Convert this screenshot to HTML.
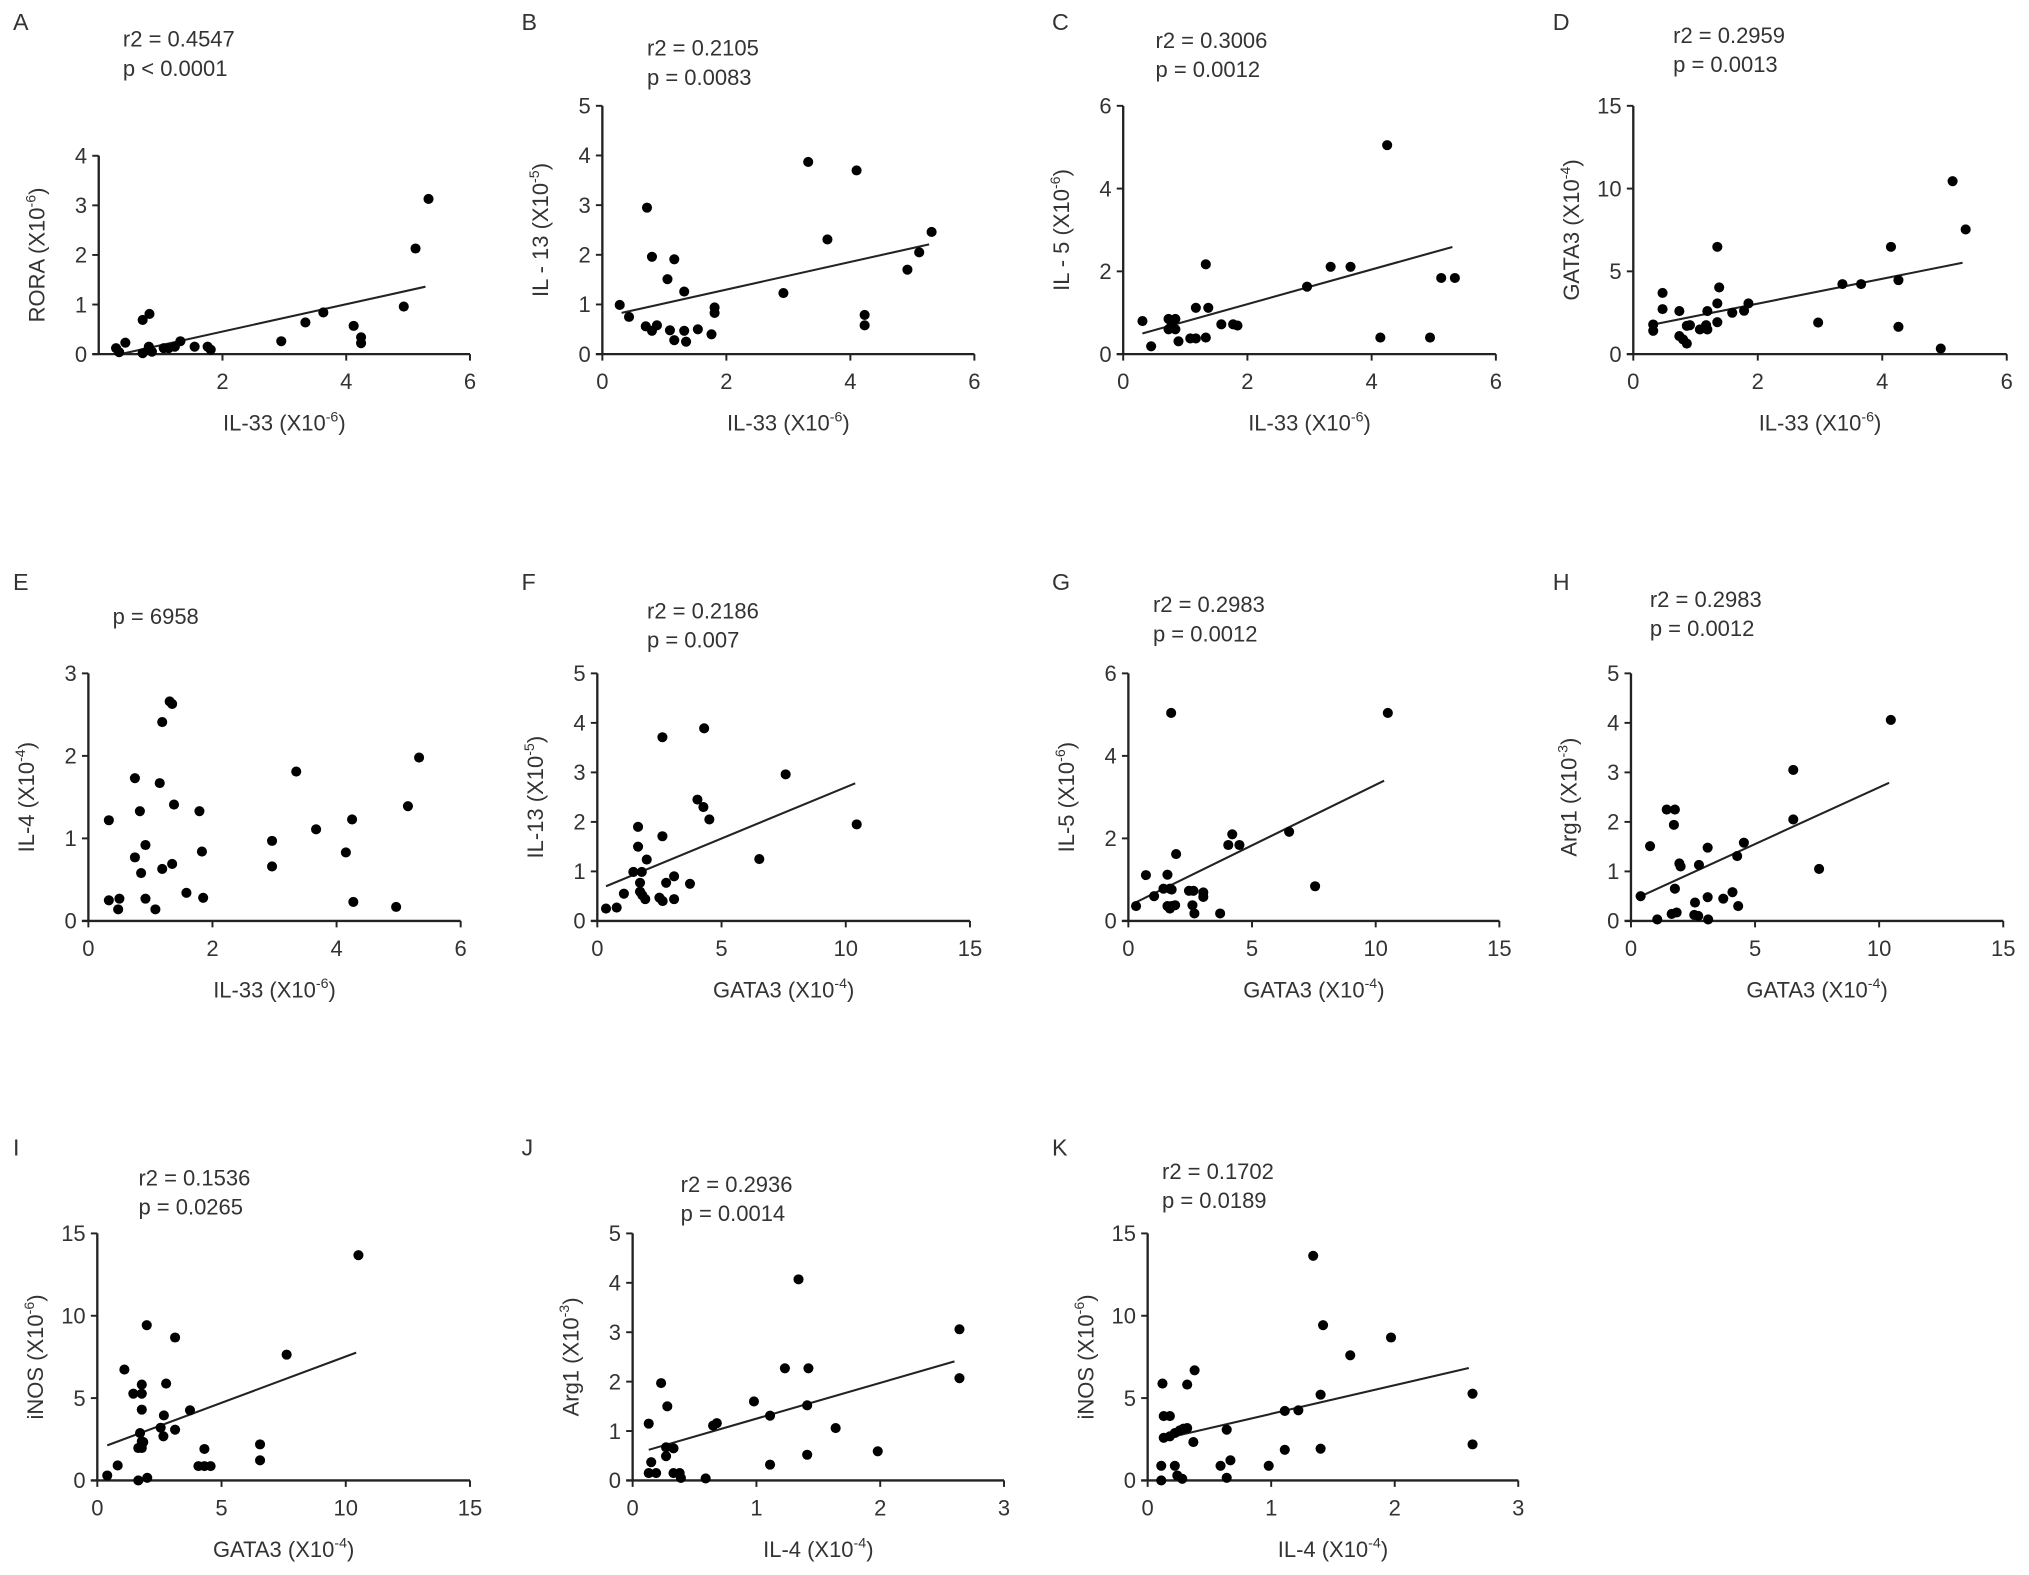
<!DOCTYPE html>
<html><head><meta charset="utf-8"><style>
html,body{margin:0;padding:0;background:#fff;}
svg{display:block;font-family:"Liberation Sans",Arial,sans-serif;}
</style></head><body>
<svg id="fig" width="2029" height="1575" viewBox="0 0 1568 1217" xmlns="http://www.w3.org/2000/svg"></svg>
<script>
// ---- data ----
const aX=[0.28,0.33,0.43,0.71,0.82,0.71,0.81,0.86,0.80,1.05,1.13,1.23,1.32,1.55,1.76,1.81,2.95,3.34,3.63,4.12,4.24,4.24,4.93,5.12,5.33];
const aY=[0.12,0.04,0.23,0.69,0.81,0.02,0.15,0.05,0.09,0.12,0.12,0.15,0.26,0.15,0.15,0.09,0.26,0.64,0.84,0.57,0.34,0.22,0.96,2.13,3.13];
const aLine=[0.35,0.0,5.28,1.36];
const bX=[0.28,0.43,0.72,0.70,0.80,0.88,0.80,1.05,1.16,1.09,1.16,1.32,1.32,1.35,1.54,1.76,1.81,1.81,2.92,3.32,3.63,4.10,4.23,4.23,4.92,5.11,5.31];
const bY=[0.99,0.75,2.95,0.56,0.47,0.58,1.96,1.51,1.91,0.48,0.28,1.26,0.47,0.25,0.50,0.40,0.94,0.83,1.23,3.87,2.31,3.70,0.79,0.58,1.70,2.05,2.46];
const bLine=[0.31,0.83,5.27,2.21];
const cX=[0.31,0.45,0.73,0.84,0.73,0.84,0.78,0.89,1.08,1.17,1.17,1.33,1.33,1.37,1.58,1.77,1.84,2.96,3.34,3.66,4.25,4.14,4.94,5.12,5.34];
const cY=[0.80,0.19,0.85,0.85,0.60,0.60,0.74,0.31,0.38,0.38,1.12,2.17,0.40,1.12,0.72,0.72,0.69,1.63,2.11,2.11,5.05,0.40,0.40,1.84,1.84];
const cLine=[0.31,0.50,5.30,2.59];
const dX=[0.32,0.32,0.47,0.47,0.74,0.74,0.80,0.86,0.86,0.91,1.07,1.17,1.19,1.19,1.35,1.35,1.35,1.38,1.59,1.78,1.85,2.97,3.36,3.66,4.14,4.26,4.26,4.94,5.13,5.34];
const dY=[1.79,1.41,3.70,2.72,2.60,1.09,0.89,0.64,1.71,1.75,1.49,1.75,1.49,2.60,6.48,3.06,1.93,4.03,2.50,2.62,3.06,1.91,4.23,4.23,6.48,4.47,1.65,0.34,10.45,7.53];
const dLine=[0.32,1.79,5.29,5.52];
const eX=[0.33,0.33,0.48,0.50,0.75,0.75,0.83,0.85,0.92,0.92,1.08,1.15,1.19,1.19,1.31,1.35,1.35,1.38,1.58,1.79,1.83,1.85,2.96,2.96,3.35,3.67,4.15,4.25,4.27,4.96,5.15,5.33];
const eY=[1.22,0.25,0.14,0.27,1.73,0.77,1.33,0.58,0.92,0.27,0.14,1.67,2.41,0.63,2.66,2.63,0.69,1.41,0.34,1.33,0.84,0.28,0.97,0.66,1.81,1.11,0.83,1.23,0.23,0.17,1.39,1.98];
const fX=[0.35,0.78,1.07,1.64,1.64,1.45,1.79,1.72,1.72,1.81,1.93,1.99,2.62,2.62,2.50,2.63,2.77,3.09,3.09,3.73,4.03,4.27,4.30,4.51,6.52,7.58,10.44];
const fY=[0.25,0.27,0.55,1.90,1.50,0.99,0.99,0.77,0.59,0.52,0.44,1.24,3.71,1.71,0.47,0.40,0.77,0.90,0.44,0.75,2.45,2.30,3.89,2.05,1.25,2.96,1.95];
const fLine=[0.35,0.70,10.38,2.78];
const gX=[0.31,0.71,1.04,1.42,1.68,1.75,1.58,1.58,1.75,1.89,1.68,1.73,1.93,2.45,2.63,3.03,3.03,2.59,2.67,3.71,4.04,4.20,4.49,6.50,7.55,10.49];
const gY=[0.36,1.11,0.60,0.78,0.78,0.76,1.12,0.36,0.36,0.38,0.30,5.04,1.62,0.73,0.73,0.69,0.58,0.38,0.18,0.18,1.84,2.10,1.84,2.16,0.84,5.04];
const gLine=[0.20,0.42,10.34,3.40];
const hX=[0.39,0.77,1.06,1.44,1.77,1.73,1.77,1.64,1.84,1.95,2.00,2.58,2.55,2.71,2.74,3.09,3.09,3.11,3.72,4.09,4.28,4.32,4.55,6.54,6.54,7.58,10.47];
const hY=[0.50,1.51,0.03,2.25,2.25,1.94,0.65,0.14,0.17,1.16,1.10,0.37,0.12,0.10,1.13,1.48,0.48,0.03,0.45,0.58,1.31,0.30,1.58,3.05,2.05,1.05,4.06];
const hLine=[0.36,0.49,10.40,2.79];
const iX=[0.40,0.82,1.09,1.45,1.79,1.79,1.79,1.72,1.79,1.85,1.65,1.79,1.65,2.01,1.99,2.55,2.66,2.77,2.68,3.13,3.13,3.73,4.31,4.07,4.31,4.56,6.55,6.55,7.62,10.51];
const iY=[0.30,0.91,6.73,5.27,5.27,5.82,4.30,2.88,2.37,2.33,1.97,1.97,0.0,0.16,9.43,3.20,2.68,5.88,3.95,8.68,3.08,4.26,1.91,0.87,0.87,0.87,2.19,1.22,7.64,13.68];
const iLine=[0.40,2.13,10.42,7.76];
const jX=[0.13,0.13,0.19,0.15,0.23,0.28,0.27,0.27,0.33,0.33,0.38,0.39,0.59,0.65,0.68,0.98,1.11,1.11,1.23,1.34,1.41,1.42,1.41,1.64,1.98,2.64,2.64];
const jY=[1.15,0.15,0.15,0.37,1.97,1.50,0.49,0.67,0.65,0.15,0.15,0.05,0.04,1.11,1.16,1.60,1.31,0.32,2.27,4.07,1.52,2.27,0.52,1.06,0.59,3.06,2.07];
const jLine=[0.13,0.62,2.60,2.41];
const kX=[0.12,0.11,0.11,0.13,0.18,0.13,0.18,0.22,0.26,0.29,0.32,0.22,0.24,0.28,0.32,0.38,0.37,0.59,0.64,0.64,0.67,0.98,1.11,1.11,1.22,1.34,1.40,1.40,1.42,1.64,1.97,2.63,2.63];
const kY=[5.88,0.89,0.0,3.91,3.91,2.59,2.68,2.88,3.04,3.14,3.18,0.89,0.30,0.10,5.82,6.69,2.33,0.89,3.08,0.16,1.22,0.89,4.22,1.86,4.26,13.64,5.21,1.93,9.43,7.60,8.68,5.27,2.19];
const kLine=[0.13,2.53,2.60,6.83];
const xt6=[0,2,4,6], xt6A=[2,4,6], xt15=[0,5,10,15], xt3=[0,1,2,3];
const yt4=[0,1,2,3,4], yt5=[0,1,2,3,4,5], yt6=[0,2,4,6], yt15=[0,5,10,15], yt3=[0,1,2,3];

const NS="http://www.w3.org/2000/svg";
const svg=document.getElementById('fig');
function mk(tag,attrs,parent){const e=document.createElementNS(NS,tag);for(const k in attrs)e.setAttribute(k,attrs[k]);(parent||svg).appendChild(e);return e;}
function addTitle(g,x,y,main,sup,rot,name){
  const t=mk('text',{x:x,y:y,'font-size':'17','fill':'#333','text-anchor':'middle'},g);
  
  
  if(rot)t.setAttribute('transform','rotate(-90 '+x+' '+y+')');
  t.appendChild(document.createTextNode(main+' (X10'));
  const s=mk('tspan',{'font-size':'11',dy:'-7'},t);s.textContent=sup;
  const s2=mk('tspan',{dy:'7'},t);s2.textContent=')';
}
function panel(p){
  const g=mk('g',{});
  
  
  const sx=v=>p.x0+(v-0)/p.xmax*(p.x1-p.x0);
  const sy=v=>p.y0-(v/p.ymax)*(p.y0-p.yt);
  const lab=mk('text',{x:p.lx,y:p.ly,'font-size':'18','fill':'#333'},g);
  
  
  lab.textContent=p.letter;
  p.stats.forEach((s,i)=>{const t=mk('text',{x:p.sx,y:p.sy+i*22.5,'font-size':'17','fill':'#333'},g);
    
    
    t.textContent=s;});
  const ax=mk('path',{d:'M'+p.x0+' '+p.yt+' V'+p.y0+' M'+(p.x0-5)+' '+p.y0+' H'+p.x1,stroke:'#222','stroke-width':'1.8',fill:'none'},g);
  
  
  p.yticks.forEach(v=>{const y=sy(v);
    mk('line',{x1:p.x0-5,x2:p.x0,y1:y,y2:y,stroke:'#222','stroke-width':'1.5'},g);
    const t=mk('text',{x:p.x0-9,y:y+6,'font-size':'17','fill':'#333','text-anchor':'end'},g);
    
    
    t.textContent=v;});
  p.xticks.forEach(v=>{const x=sx(v);
    mk('line',{x1:x,x2:x,y1:p.y0,y2:p.y0+5,stroke:'#222','stroke-width':'1.5'},g);
    const t=mk('text',{x:x,y:p.y0+27,'font-size':'17','fill':'#333','text-anchor':'middle'},g);
    
    
    t.textContent=v;});
  addTitle(g,(p.x0+p.x1)/2,p.y0+59,p.xl[0],p.xl[1],false,'x-axis-title');
  addTitle(g,p.x0-42,(p.y0+p.yt)/2,p.yl[0],p.yl[1],true,'y-axis-title');
  if(p.line){const L=p.line;
    const ln=mk('line',{x1:sx(L[0]),y1:sy(L[1]),x2:sx(L[2]),y2:sy(L[3]),stroke:'#222','stroke-width':'1.6'},g);
    
    }
  p.X.forEach((v,i)=>{const c=mk('circle',{cx:sx(v),cy:sy(p.Y[i]),r:'3.9',fill:'#000'},g);
    
    });
}
const R1=273.6,R1t=81.7,R2=711.6,R2t=520.3,R3=1144,R3t=953.1;
panel({letter:'A',lx:10,ly:23,sx:95,sy:36,stats:['r2 = 0.4547','p < 0.0001'],x0:76.3,x1:363.2,xmax:6,y0:R1,yt:120.3,ymax:4,xticks:xt6A,yticks:yt4,xl:['IL-33','-6'],yl:['RORA','-6'],X:aX,Y:aY,line:aLine});
panel({letter:'B',lx:403,ly:23,sx:500,sy:43,stats:['r2 = 0.2105','p = 0.0083'],x0:465.5,x1:753,xmax:6,y0:R1,yt:R1t,ymax:5,xticks:xt6,yticks:yt5,xl:['IL-33','-6'],yl:['IL - 13','-5'],X:bX,Y:bY,line:bLine});
panel({letter:'C',lx:813,ly:23,sx:893,sy:37,stats:['r2 = 0.3006','p = 0.0012'],x0:868,x1:1156,xmax:6,y0:R1,yt:R1t,ymax:6,xticks:xt6,yticks:yt6,xl:['IL-33','-6'],yl:['IL - 5','-6'],X:cX,Y:cY,line:cLine});
panel({letter:'D',lx:1200,ly:23,sx:1293,sy:33,stats:['r2 = 0.2959','p = 0.0013'],x0:1262.2,x1:1550.8,xmax:6,y0:R1,yt:R1t,ymax:15,xticks:xt6,yticks:yt15,xl:['IL-33','-6'],yl:['GATA3','-4'],X:dX,Y:dY,line:dLine});
panel({letter:'E',lx:10,ly:456,sx:87,sy:482,stats:['p = 6958'],x0:68.3,x1:356,xmax:6,y0:R2,yt:R2t,ymax:3,xticks:xt6,yticks:yt3,xl:['IL-33','-6'],yl:['IL-4','-4'],X:eX,Y:eY,line:null});
panel({letter:'F',lx:403,ly:456,sx:500,sy:478,stats:['r2 = 0.2186','p = 0.007'],x0:461.6,x1:749.6,xmax:15,y0:R2,yt:R2t,ymax:5,xticks:xt15,yticks:yt5,xl:['GATA3','-4'],yl:['IL-13','-5'],X:fX,Y:fY,line:fLine});
panel({letter:'G',lx:813,ly:456,sx:891,sy:473,stats:['r2 = 0.2983','p = 0.0012'],x0:872,x1:1158.7,xmax:15,y0:R2,yt:R2t,ymax:6,xticks:xt15,yticks:yt6,xl:['GATA3','-4'],yl:['IL-5','-6'],X:gX,Y:gY,line:gLine});
panel({letter:'H',lx:1200,ly:456,sx:1275,sy:469,stats:['r2 = 0.2983','p = 0.0012'],x0:1260.4,x1:1548.1,xmax:15,y0:R2,yt:R2t,ymax:5,xticks:xt15,yticks:yt5,xl:['GATA3','-4'],yl:['Arg1','-3'],X:hX,Y:hY,line:hLine});
panel({letter:'I',lx:10,ly:893,sx:107,sy:916,stats:['r2 = 0.1536','p = 0.0265'],x0:75.2,x1:363.2,xmax:15,y0:R3,yt:R3t,ymax:15,xticks:xt15,yticks:yt15,xl:['GATA3','-4'],yl:['iNOS','-6'],X:iX,Y:iY,line:iLine});
panel({letter:'J',lx:403,ly:893,sx:526,sy:921,stats:['r2 = 0.2936','p = 0.0014'],x0:488.9,x1:775.9,xmax:3,y0:R3,yt:R3t,ymax:5,xticks:xt3,yticks:yt5,xl:['IL-4','-4'],yl:['Arg1','-3'],X:jX,Y:jY,line:jLine});
panel({letter:'K',lx:813,ly:893,sx:898,sy:911,stats:['r2 = 0.1702','p = 0.0189'],x0:886.9,x1:1173.3,xmax:3,y0:R3,yt:R3t,ymax:15,xticks:xt3,yticks:yt15,xl:['IL-4','-4'],yl:['iNOS','-6'],X:kX,Y:kY,line:kLine});
</script>
</body></html>
